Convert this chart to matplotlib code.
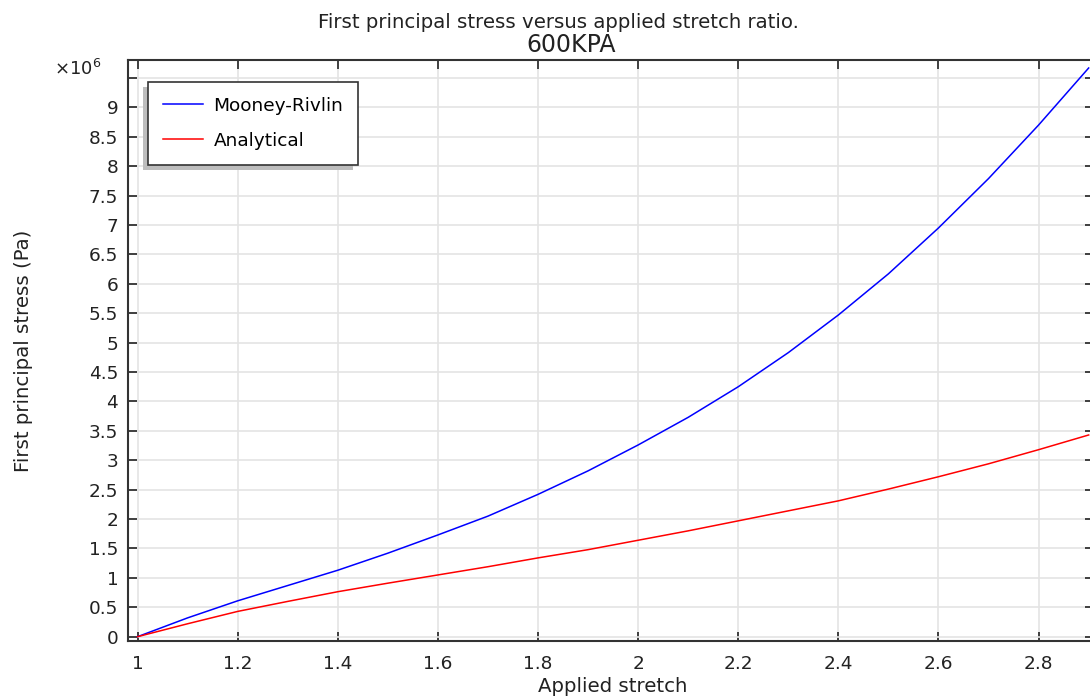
import matplotlib
matplotlib.use("Agg")
import matplotlib.pyplot as plt
from matplotlib.ticker import FixedLocator, FuncFormatter
from matplotlib.patches import Rectangle

plt.rcParams['font.family'] = ['DejaVu Sans']

stretch = [1.0, 1.05, 1.1, 1.2, 1.3, 1.4, 1.5, 1.6, 1.7, 1.8, 1.9, 2.0,
           2.1, 2.2, 2.3, 2.4, 2.5, 2.6, 2.7, 2.8, 2.9]
mooney_rivlin = [0.0, 0.16, 0.32, 0.61, 0.87, 1.13, 1.42, 1.73, 2.05, 2.42,
                 2.82, 3.26, 3.73, 4.25, 4.83, 5.47, 6.17, 6.95, 7.79, 8.70, 9.67]
analytical = [0.0, 0.11, 0.22, 0.43, 0.60, 0.765, 0.91, 1.05, 1.19, 1.34,
              1.48, 1.64, 1.80, 1.97, 2.14, 2.31, 2.51, 2.72, 2.94, 3.18, 3.43]
scale = 1e6

x_ticks = [1.0, 1.2, 1.4, 1.6, 1.8, 2.0, 2.2, 2.4, 2.6, 2.8]
y_ticks = [0, 0.5, 1, 1.5, 2, 2.5, 3, 3.5, 4, 4.5, 5, 5.5, 6, 6.5, 7, 7.5, 8, 8.5, 9, 9.5]

W, H = 1090, 696
fig = plt.figure(figsize=(W/100, H/100), dpi=100)
L, R, T, B = 128, 1094, 60, 641
ax = fig.add_axes([L/W, 1-B/H, (R-L)/W, (B-T)/H])

ax.plot(stretch, [v*scale for v in mooney_rivlin], color="#0000ff", lw=1.1, label="Mooney-Rivlin")
ax.plot(stretch, [v*scale for v in analytical], color="#ff0000", lw=1.1, label="Analytical")

ax.set_xlim(0.981, 0.981 + (R-L)/500.6)
ax.set_ylim(-0.073e6, 9.806e6)

ax.xaxis.set_major_locator(FixedLocator(x_ticks))
ax.yaxis.set_major_locator(FixedLocator([t*scale for t in y_ticks]))
ax.xaxis.set_major_formatter(FuncFormatter(lambda v, p: f"{v:g}"))
ax.yaxis.set_major_formatter(FuncFormatter(lambda v, p: "" if abs(v/scale-9.5) < 1e-6 else f"{v/scale:g}"))

ax.tick_params(direction="in", top=True, right=True, length=6.5, width=1.2,
               labelsize=13.3, colors="#222222")
ax.tick_params(axis="x", pad=10)
ax.tick_params(axis="y", pad=7)
ax.grid(True, color="#e4e4e4", lw=1.2)
ax.set_axisbelow(True)
for s in ax.spines.values():
    s.set_color("#333333")
    s.set_linewidth(1.5)

ax.text(-0.028, 0.985, r"$\times$10$^{6}$", transform=ax.transAxes, ha="right",
        va="center", fontsize=13, color="#222222")

ax.set_xlabel("Applied stretch", fontsize=14.2, color="#222222", va="top")
ax.xaxis.set_label_coords((613-L)/(R-L), -(677-B)/(B-T))
ax.set_ylabel("First principal stress (Pa)", fontsize=14.2, color="#222222")
ax.yaxis.set_label_coords(-(L-33)/(R-L), 0.5)

fig.text(558/W, 1-22/H, "First principal stress versus applied stretch ratio.",
         ha="center", va="center", fontsize=14.2, color="#222222")
fig.text(571/W, 1-45/H, "600KPA", ha="center", va="center", fontsize=17,
         color="#222222")

leg = ax.legend(loc="upper left", bbox_to_anchor=((148-L)/(R-L), 1-(82-T)/(B-T)),
                fontsize=13.3, fancybox=False, shadow=False, edgecolor="#333333",
                framealpha=1, handlelength=2.2, handletextpad=0.55, borderpad=0.8,
                labelspacing=0.92, borderaxespad=0)
leg.get_frame().set_linewidth(1.2)
leg.set_zorder(6)

fig.canvas.draw()
bb = leg.get_window_extent()
sh = Rectangle((bb.x0 - 5, bb.y0 - 5), bb.width, bb.height, transform=None,
               facecolor="#bdbdbd", edgecolor="none", zorder=5.5)
ax.add_artist(sh)

fig.savefig("out.png", dpi=100)
